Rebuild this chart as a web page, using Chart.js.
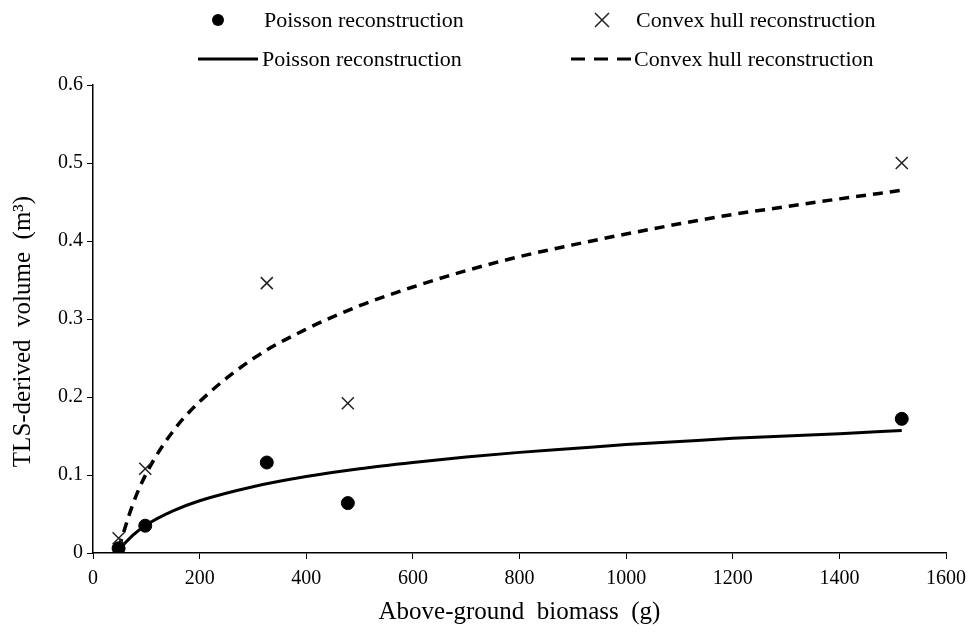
<!DOCTYPE html>
<html>
<head>
<meta charset="utf-8">
<script src="https://cdn.jsdelivr.net/npm/chart.js@4"></script>
<style>
  body { margin: 0; background: #fff; }
  #wrap { width: 974px; height: 633px; }
</style>
</head>
<body>
<div id="wrap"><canvas id="chart" width="974" height="633"></canvas></div>
<script>
// measured points
const biomass = [48, 98, 326, 478, 1517];
const poissonVolume = [0.006, 0.035, 0.116, 0.064, 0.172];
const convexVolume = [0.019, 0.108, 0.346, 0.192, 0.500];

// trend lines
const trendBiomass = [48, 75, 100, 150, 200, 300, 400, 500, 600, 700, 800, 900, 1000, 1100, 1200, 1300, 1400, 1517];
const poissonTrend = [0.004, 0.023, 0.036, 0.054, 0.067, 0.085, 0.098, 0.108, 0.116, 0.123, 0.129, 0.134, 0.139, 0.143, 0.147, 0.150, 0.153, 0.157];
const convexTrend = [0.006, 0.063, 0.102, 0.156, 0.194, 0.249, 0.287, 0.317, 0.341, 0.362, 0.380, 0.395, 0.409, 0.422, 0.434, 0.444, 0.454, 0.465];

const seriesNames = ['Poisson reconstruction', 'Convex hull reconstruction'];

const FONT = '"Liberation Serif", "Times New Roman", serif';

function toXY(xs, ys) {
    return xs.map((x, i) => ({ x: x, y: ys[i] }));
}

// legend drawn by hand, two rows like the original
const legendPlugin = {
    id: 'manualLegend',
    afterDraw(chart) {
        const ctx = chart.ctx;
        ctx.save();
        ctx.fillStyle = '#000';
        ctx.strokeStyle = '#000';
        ctx.font = '22px ' + FONT;
        ctx.textBaseline = 'middle';
        ctx.textAlign = 'left';

        // row 1: markers
        ctx.beginPath();
        ctx.arc(218, 20, 6, 0, Math.PI * 2);
        ctx.fill();
        ctx.fillText(seriesNames[0], 264, 21);

        ctx.lineWidth = 1.5;
        ctx.strokeStyle = '#222';
        ctx.beginPath();
        ctx.moveTo(595, 13); ctx.lineTo(609, 27);
        ctx.moveTo(609, 13); ctx.lineTo(595, 27);
        ctx.stroke();
        ctx.fillText(seriesNames[1], 636, 21);

        // row 2: lines
        ctx.strokeStyle = '#000';
        ctx.lineWidth = 3;
        ctx.beginPath();
        ctx.moveTo(198, 59); ctx.lineTo(258, 59);
        ctx.stroke();
        ctx.fillText(seriesNames[0], 262, 60);

        ctx.setLineDash([14, 9]);
        ctx.beginPath();
        ctx.moveTo(571, 59); ctx.lineTo(631, 59);
        ctx.stroke();
        ctx.setLineDash([]);
        ctx.fillText(seriesNames[1], 634, 60);
        ctx.restore();
    }
};

const ctx = document.getElementById('chart').getContext('2d');
new Chart(ctx, {
    type: 'scatter',
    data: {
        datasets: [
            {
                label: seriesNames[0],
                data: toXY(biomass, poissonVolume),
                pointStyle: 'circle',
                pointRadius: 6.5,
                backgroundColor: '#000',
                borderColor: '#000',
                order: 1,
            },
            {
                label: seriesNames[1],
                data: toXY(biomass, convexVolume),
                pointStyle: 'crossRot',
                pointRadius: 8.5,
                borderWidth: 1.5,
                borderColor: '#222',
                backgroundColor: '#222',
                order: 1,
            },
            {
                label: seriesNames[0] + ' trend',
                data: toXY(trendBiomass, poissonTrend),
                showLine: true,
                borderColor: '#000',
                borderWidth: 3,
                pointRadius: 0,
                cubicInterpolationMode: 'monotone',
                order: 2,
            },
            {
                label: seriesNames[1] + ' trend',
                data: toXY(trendBiomass, convexTrend),
                showLine: true,
                borderColor: '#000',
                borderWidth: 3.5,
                borderDash: [10, 7],
                pointRadius: 0,
                cubicInterpolationMode: 'monotone',
                order: 2,
            },
        ],
    },
    options: {
        responsive: false,
        animation: false,
        layout: { padding: { top: 85, right: 26, left: 0, bottom: 0 } },
        plugins: { legend: { display: false }, tooltip: { enabled: false } },
        scales: {
            x: {
                min: 0,
                max: 1600,
                ticks: {
                    stepSize: 200,
                    color: '#000',
                    font: { family: FONT, size: 20 },
                    padding: 8,
                    maxRotation: 0,
                    callback: (v) => String(v),
                },
                grid: { display: true, drawOnChartArea: false, drawTicks: true, tickLength: 6, color: '#000' },
                border: { color: '#000', width: 1.5 },
                title: {
                    display: true,
                    text: 'Above-ground  biomass  (g)',
                    color: '#000',
                    font: { family: FONT, size: 25 },
                    padding: { top: 0, bottom: 6 },
                },
                afterFit(scale) { scale.height = 80; },
            },
            y: {
                min: 0,
                max: 0.6,
                ticks: {
                    stepSize: 0.1,
                    color: '#000',
                    font: { family: FONT, size: 20 },
                    padding: 4,
                    callback: (v) => (v === 0 ? '0' : v.toFixed(1)),
                },
                grid: { display: true, drawOnChartArea: false, drawTicks: true, tickLength: 6, color: '#000' },
                border: { color: '#000', width: 1.5 },
                title: {
                    display: true,
                    text: 'TLS-derived  volume  (m³)    ',
                    color: '#000',
                    font: { family: FONT, size: 25 },
                    padding: { top: 8, bottom: 0 },
                },
                afterFit(scale) { scale.width = 93; },
            },
        },
    },
    plugins: [legendPlugin],
});
</script>
</body>
</html>
